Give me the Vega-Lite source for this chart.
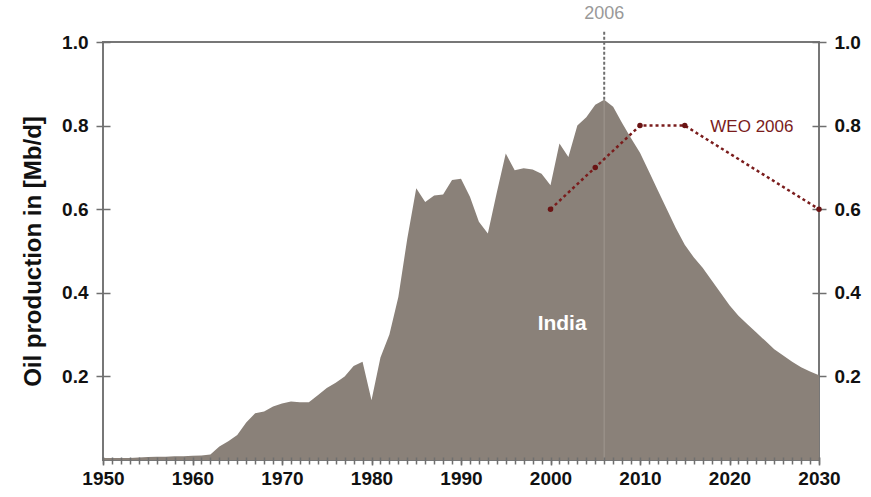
{
  "$schema": "https://vega.github.io/schema/vega-lite/v6.json",
  "width": 716,
  "height": 418,
  "autosize": {"type": "none"},
  "padding": {"left": 103, "top": 42, "right": 52, "bottom": 37},
  "background": "white",
  "config": {
    "view": {"stroke": "#777777", "strokeWidth": 2},
    "font": "Liberation Sans",
    "axis": {
      "labelFont": "Liberation Sans",
      "labelFontWeight": "bold",
      "labelFontSize": 19,
      "labelColor": "#111111",
      "tickColor": "#6f6f6f",
      "tickWidth": 1.5,
      "domain": false,
      "grid": false,
      "zindex": 1
    }
  },
  "datasets": {
    "india": [
      {"year": 1950, "oil": 0.005}, {"year": 1951, "oil": 0.005}, {"year": 1952, "oil": 0.005},
      {"year": 1953, "oil": 0.005}, {"year": 1954, "oil": 0.006}, {"year": 1955, "oil": 0.007},
      {"year": 1956, "oil": 0.008}, {"year": 1957, "oil": 0.008}, {"year": 1958, "oil": 0.009},
      {"year": 1959, "oil": 0.009}, {"year": 1960, "oil": 0.01}, {"year": 1961, "oil": 0.011},
      {"year": 1962, "oil": 0.013}, {"year": 1963, "oil": 0.032}, {"year": 1964, "oil": 0.045},
      {"year": 1965, "oil": 0.06}, {"year": 1966, "oil": 0.09}, {"year": 1967, "oil": 0.112},
      {"year": 1968, "oil": 0.116}, {"year": 1969, "oil": 0.128}, {"year": 1970, "oil": 0.135},
      {"year": 1971, "oil": 0.14}, {"year": 1972, "oil": 0.138}, {"year": 1973, "oil": 0.138},
      {"year": 1974, "oil": 0.155}, {"year": 1975, "oil": 0.172}, {"year": 1976, "oil": 0.185},
      {"year": 1977, "oil": 0.2}, {"year": 1978, "oil": 0.225}, {"year": 1979, "oil": 0.235},
      {"year": 1980, "oil": 0.143}, {"year": 1981, "oil": 0.245}, {"year": 1982, "oil": 0.3},
      {"year": 1983, "oil": 0.39}, {"year": 1984, "oil": 0.53}, {"year": 1985, "oil": 0.65},
      {"year": 1986, "oil": 0.617}, {"year": 1987, "oil": 0.633}, {"year": 1988, "oil": 0.635},
      {"year": 1989, "oil": 0.67}, {"year": 1990, "oil": 0.673}, {"year": 1991, "oil": 0.63},
      {"year": 1992, "oil": 0.57}, {"year": 1993, "oil": 0.542}, {"year": 1994, "oil": 0.64},
      {"year": 1995, "oil": 0.733}, {"year": 1996, "oil": 0.693}, {"year": 1997, "oil": 0.698},
      {"year": 1998, "oil": 0.695}, {"year": 1999, "oil": 0.685}, {"year": 2000, "oil": 0.657},
      {"year": 2001, "oil": 0.757}, {"year": 2002, "oil": 0.725}, {"year": 2003, "oil": 0.8},
      {"year": 2004, "oil": 0.82}, {"year": 2005, "oil": 0.85}, {"year": 2006, "oil": 0.862},
      {"year": 2007, "oil": 0.845}, {"year": 2008, "oil": 0.806}, {"year": 2009, "oil": 0.77},
      {"year": 2010, "oil": 0.735}, {"year": 2011, "oil": 0.69}, {"year": 2012, "oil": 0.645},
      {"year": 2013, "oil": 0.6}, {"year": 2014, "oil": 0.555}, {"year": 2015, "oil": 0.515},
      {"year": 2016, "oil": 0.485}, {"year": 2017, "oil": 0.46}, {"year": 2018, "oil": 0.43},
      {"year": 2019, "oil": 0.4}, {"year": 2020, "oil": 0.37}, {"year": 2021, "oil": 0.345},
      {"year": 2022, "oil": 0.325}, {"year": 2023, "oil": 0.305}, {"year": 2024, "oil": 0.285},
      {"year": 2025, "oil": 0.265}, {"year": 2026, "oil": 0.25}, {"year": 2027, "oil": 0.235},
      {"year": 2028, "oil": 0.222}, {"year": 2029, "oil": 0.212}, {"year": 2030, "oil": 0.203}
    ],
    "weo": [
      {"year": 2000, "oil": 0.6}, {"year": 2005, "oil": 0.7}, {"year": 2010, "oil": 0.8},
      {"year": 2015, "oil": 0.8}, {"year": 2030, "oil": 0.6}
    ],
    "labels": [
      {"year": 2006, "oil": 1.045, "text": "2006", "kind": "year"},
      {"year": 2001.3, "oil": 0.325, "text": "India", "kind": "country"},
      {"year": 2022.5, "oil": 0.796, "text": "WEO 2006", "kind": "scenario"}
    ],
    "marker": [{"year": 2006, "top": 1.025, "peak": 0.862, "bottom": 0}]
  },
  "resolve": {"scale": {"x": "shared", "y": "shared"}, "axis": {"x": "independent", "y": "independent"}},
  "layer": [
    {
      "data": {"name": "india"},
      "mark": {"type": "area", "color": "#8a8179", "opacity": 1, "interpolate": "linear"},
      "encoding": {
        "x": {
          "field": "year", "type": "quantitative",
          "scale": {"domain": [1950, 2030], "nice": false, "zero": false},
          "axis": {
            "orient": "bottom",
            "title": null,
            "values": [1950,1951,1952,1953,1954,1955,1956,1957,1958,1959,1960,1961,1962,1963,1964,1965,1966,1967,1968,1969,1970,1971,1972,1973,1974,1975,1976,1977,1978,1979,1980,1981,1982,1983,1984,1985,1986,1987,1988,1989,1990,1991,1992,1993,1994,1995,1996,1997,1998,1999,2000,2001,2002,2003,2004,2005,2006,2007,2008,2009,2010,2011,2012,2013,2014,2015,2016,2017,2018,2019,2020,2021,2022,2023,2024,2025,2026,2027,2028,2029,2030],
            "labels": false,
            "tickSize": 7,
            "offset": -3,
            "zindex": 2
          }
        },
        "y": {
          "field": "oil", "type": "quantitative",
          "scale": {"domain": [0, 1], "nice": false},
          "axis": {
            "orient": "left",
            "values": [0.2, 0.4, 0.6, 0.8, 1.0],
            "format": ".1f",
            "tickSize": 14,
            "offset": -7,
            "labelPadding": 8,
            "title": "Oil production in [Mb/d]",
            "titleFont": "Liberation Sans",
            "titleFontSize": 24,
            "titleFontWeight": "bold",
            "titleColor": "#111111",
            "titlePadding": 16
          }
        }
      }
    },
    {
      "data": {"name": "marker"},
      "mark": {"type": "rule", "color": "#6f6f6f", "strokeWidth": 2, "strokeDash": [3, 2], "clip": false},
      "encoding": {
        "x": {
          "field": "year", "type": "quantitative",
          "axis": {
            "orient": "bottom",
            "title": null,
            "values": [1950, 1960, 1970, 1980, 1990, 2000, 2010, 2020, 2030],
            "format": "d",
            "tickSize": 8,
            "offset": -3,
            "labelPadding": 4,
            "labelFlush": false,
            "labelOverlap": false
          }
        },
        "y": {"field": "peak", "type": "quantitative", "axis": null},
        "y2": {"field": "top"}
      }
    },
    {
      "data": {"name": "marker"},
      "mark": {"type": "rule", "color": "#a39b93", "strokeWidth": 1.5, "opacity": 0.6},
      "encoding": {
        "x": {"field": "year", "type": "quantitative", "axis": null},
        "y": {"field": "bottom", "type": "quantitative", "axis": null},
        "y2": {"field": "peak"}
      }
    },
    {
      "data": {"name": "weo"},
      "mark": {"type": "line", "color": "#7a1c1c", "strokeWidth": 2.5, "strokeDash": [3, 3], "clip": false,
               "point": {"filled": true, "color": "#6a1414", "size": 30}},
      "encoding": {
        "x": {"field": "year", "type": "quantitative", "axis": null},
        "y": {
          "field": "oil", "type": "quantitative",
          "axis": {
            "orient": "right",
            "values": [0.2, 0.4, 0.6, 0.8, 1.0],
            "format": ".1f",
            "tickSize": 14,
            "offset": -7,
            "labelPadding": 8,
            "title": null
          }
        }
      }
    },
    {
      "data": {"name": "labels"},
      "transform": [{"filter": "datum.kind === 'year'"}],
      "mark": {"type": "text", "color": "#999999", "fontSize": 18, "baseline": "bottom", "align": "center", "clip": false},
      "encoding": {
        "x": {"field": "year", "type": "quantitative", "axis": null},
        "y": {"field": "oil", "type": "quantitative", "axis": null},
        "text": {"field": "text"}
      }
    },
    {
      "data": {"name": "labels"},
      "transform": [{"filter": "datum.kind === 'country'"}],
      "mark": {"type": "text", "color": "white", "fontSize": 21, "fontWeight": "bold", "baseline": "middle", "align": "center"},
      "encoding": {
        "x": {"field": "year", "type": "quantitative", "axis": null},
        "y": {"field": "oil", "type": "quantitative", "axis": null},
        "text": {"field": "text"}
      }
    },
    {
      "data": {"name": "labels"},
      "transform": [{"filter": "datum.kind === 'scenario'"}],
      "mark": {"type": "text", "color": "#7a1c1c", "fontSize": 17, "baseline": "middle", "align": "center"},
      "encoding": {
        "x": {"field": "year", "type": "quantitative", "axis": null},
        "y": {"field": "oil", "type": "quantitative", "axis": null},
        "text": {"field": "text"}
      }
    }
  ]
}
